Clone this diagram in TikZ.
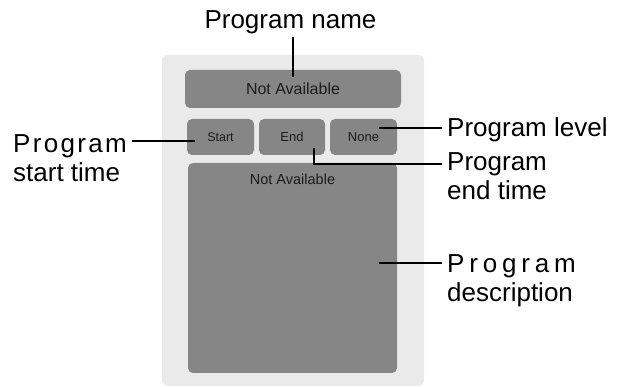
\documentclass[tikz,border=0pt]{standalone}
\usepackage{fontspec}
\setmainfont{Liberation Sans}
\usetikzlibrary{positioning}
\definecolor{panelgray}{HTML}{EAEAEA}
\definecolor{boxgray}{HTML}{868686}
\definecolor{boxtext}{HTML}{1C1C1C}

\begin{document}
\begin{tikzpicture}[
  x=1pt, y=1pt,
  panel/.style={fill=panelgray, rounded corners=6pt},
  fld/.style={fill=boxgray, rounded corners=5pt, inner sep=0pt, text=boxtext},
  lbl/.style={font=\fontsize{26}{29}\selectfont, align=left, inner xsep=5pt, inner ysep=2pt},
  ln/.style={line width=1.6pt},
]
\useasboundingbox (0,0) rectangle (623,387);

%% ---------- the screen ----------
\fill[panel] (162,1) rectangle (424,332);
\node[fld, minimum width=216, minimum height=38, font=\fontsize{16}{18}\selectfont] (title) at (293,298) {Not Available};
\node[fld, minimum width=67, minimum height=36, font=\fontsize{12.5}{14}\selectfont] (start) at (220.5,250) {Start};
\node[fld, minimum width=66, minimum height=36, font=\fontsize{13}{15}\selectfont] (end) at (292,250) {End};
\node[fld, minimum width=67, minimum height=36, font=\fontsize{13}{15}\selectfont] (none) at (363.5,250) {None};
\node[fld, minimum width=209, minimum height=210,
      label={[anchor=north, yshift=-8pt, text=boxtext, font=\fontsize{14.5}{16}\selectfont]north:Not Available}] (desc) at (292.5,119) {};

%% ---------- callouts ----------
\coordinate (nametip) at (293,310);
\coordinate (starttip) at (195,246);
\coordinate (nonetip) at (379,259);
\coordinate (endtip) at (314,239);
\coordinate (endlink) at (442,223);
\coordinate (desctip) at (379,124);

\node[lbl, anchor=base] (namelbl) at (290.5,358) {Program name};
\node[lbl, anchor=base west] (startlbl) at (8,205) {{\addfontfeature{LetterSpace=9}Program}\\start time};
\node[lbl, anchor=base west] (lvllbl) at (442,250) {Program level};
\node[lbl, anchor=base west] (endlbl) at (442,187) {Program\\end time};
\node[lbl, anchor=base west] (desclbl) at (442,85) {{\addfontfeature{LetterSpace=18.5}Program}\\description};

\draw[ln] (nametip) -- (nametip |- namelbl.south);
\draw[ln] (starttip) -- (starttip -| startlbl.east);
\draw[ln] (nonetip) -- (nonetip -| lvllbl.west);
\draw[ln] (endtip) |- (endlink);
\draw[ln] (desctip) -- (desctip -| desclbl.west);

\end{tikzpicture}
\end{document}
